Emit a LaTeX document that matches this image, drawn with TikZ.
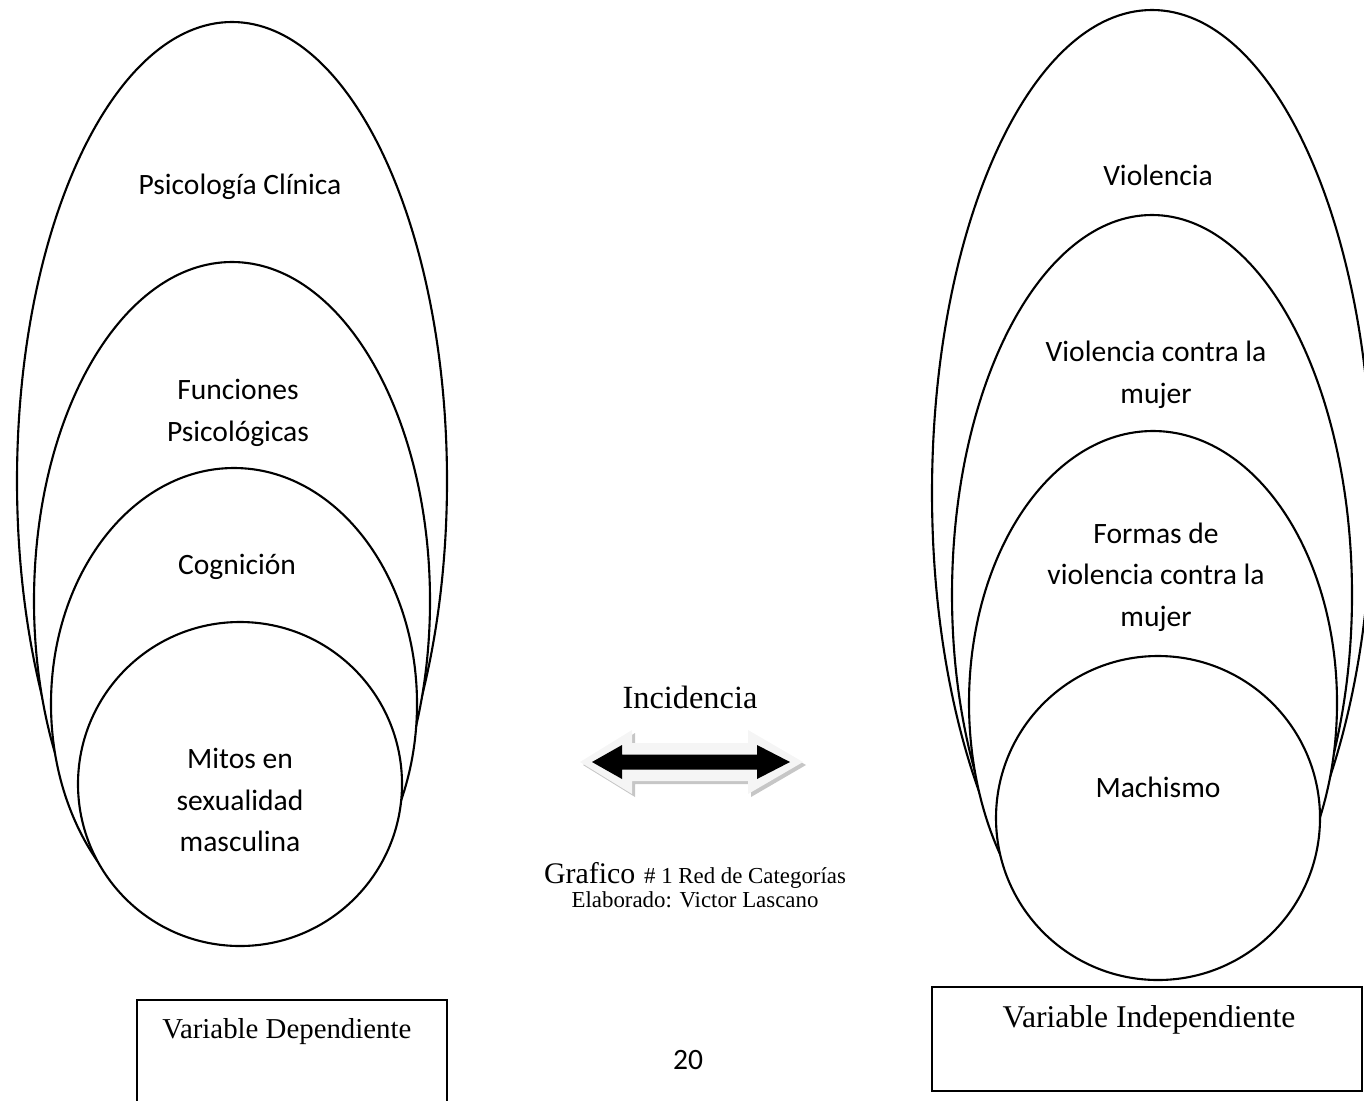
\documentclass[tikz,border=0pt]{standalone}
\usepackage{fontspec}
\setmainfont{Liberation Serif}
\newfontfamily\calibri{Carlito}
\begin{document}
\begin{tikzpicture}[x=0.01cm,y=-0.01cm,
		ring/.style={draw=black,line width=0.6pt,fill=white},
		lbl/.style={font=\calibri\fontsize{8.4}{11.8}\selectfont,align=center},
		varbox/.style={draw=black,line width=0.8pt}]
		\useasboundingbox (0,0) rectangle (1364,1100);
		\clip (0,0) rectangle (1364,1100);
		% variable dependiente
		\filldraw[ring] (232,481) ellipse [x radius=215, y radius=459];
		\filldraw[ring] (232,601) ellipse [x radius=198, y radius=339];
		\filldraw[ring] (234,704) ellipse [x radius=183, y radius=236];
		\filldraw[ring] (240,784) circle [radius=162];
		\node[lbl] (psiclin) at (240,187) {Psicología Clínica};
		\node[lbl] (funcpsi) at (238,413) {Funciones\\Psicológicas};
		\node[lbl] (cognic) at (237,567) {Cognición};
		\node[lbl] (mitos) at (240,800) {Mitos en\\sexualidad\\masculina};
		% variable independiente
		\filldraw[ring] (1152,493) ellipse [x radius=220, y radius=483];
		\filldraw[ring] (1152,595) ellipse [x radius=200, y radius=380];
		\filldraw[ring] (1153,703) ellipse [x radius=184, y radius=272];
		\filldraw[ring] (1158,818) circle [radius=162];
		\node[lbl] (violen) at (1158,175) {Violencia};
		\node[lbl] (violmuj) at (1156,375) {Violencia contra la\\mujer};
		\node[lbl] (formas) at (1156,577) {Formas de\\violencia contra la\\mujer};
		\node[lbl] (machis) at (1158,787) {Machismo};
		% flecha
		\node[font=\fontsize{9.2}{11}\selectfont] (incid) at (690,697) {Incidencia};
		\fill[gray!45] (583,765) -- (635,733) -- (635,746) -- (751,746) -- (751,733) -- (806,765)
			-- (751,797) -- (751,784) -- (635,784) -- (635,797) -- cycle;
		\fill[gray!8] (580,762) -- (632,730) -- (632,743) -- (748,743) -- (748,730) -- (803,762)
			-- (748,794) -- (748,781) -- (632,781) -- (632,794) -- cycle;
		\fill[black] (592,762) -- (622,745) -- (622,754.5) -- (757,754.5) -- (757,745) -- (790,762)
			-- (757,779) -- (757,769.5) -- (622,769.5) -- (622,779) -- cycle;
		\node (graf) at (695,875) {{\fontsize{8.5}{10}\selectfont Grafico} {\fontsize{6.5}{8}\selectfont \# 1 Red de Categorías}};
		\node[font=\fontsize{6.5}{8}\selectfont] (elab) at (695,900) {Elaborado: Victor Lascano};
		\node[font=\calibri\fontsize{8.4}{10}\selectfont] (pagina) at (688,1060) {20};
		% recuadros
		\draw[varbox] (137,1000) rectangle (447,1130);
		\node[font=\fontsize{8.2}{10}\selectfont,anchor=west] (vardep) at (150,1032) {Variable Dependiente};
		\draw[varbox] (932,987) rectangle (1362,1091);
		\node[font=\fontsize{9}{11}\selectfont] (varind) at (1149,1020) {Variable Independiente};
	\end{tikzpicture}
\end{document}
